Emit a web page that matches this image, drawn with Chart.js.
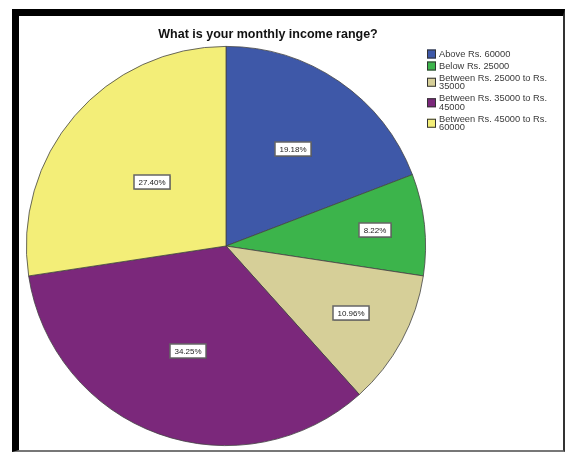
<!DOCTYPE html>
<html>
<head>
<meta charset="utf-8">
<script src="https://cdn.jsdelivr.net/npm/chart.js@4.4.0/dist/chart.umd.min.js"></script>
<style>
  html, body { margin: 0; padding: 0; background: #fff; }
  #frame {
    position: absolute; left: 12px; top: 9px; width: 553px; height: 443px;
    box-sizing: border-box;
    border-left: 7px solid #000; border-top: 7px solid #000;
    border-right: 2px solid #333; border-bottom: 2px solid #777;
  }
  #wrap { position: absolute; left: 0; top: 0; width: 566px; height: 453px; }
</style>
</head>
<body>
<div id="frame"></div>
<div id="wrap"><canvas id="chart"></canvas></div>
<script>
var categories = ['Above Rs. 60000', 'Below Rs. 25000', 'Between Rs. 25000 to Rs. 35000',
                  'Between Rs. 35000 to Rs. 45000', 'Between Rs. 45000 to Rs. 60000'];
var percents = [19.18, 8.22, 10.96, 34.25, 27.40];
var colors = ['#3e58a8', '#3cb44b', '#d6cf98', '#7b287b', '#f3ee78'];
// how far out each label box sits, as a share of the radius
var labelDepth = [0.59, 0.75, 0.71, 0.56, 0.49];

var FONT = "'Liberation Sans', Arial, sans-serif";

// percent boxes on the slices
var pieLabels = {
	id: 'pieLabels',
	afterDatasetsDraw: function(chart) {
		var ctx = chart.ctx;
		var meta = chart.getDatasetMeta(0);
		ctx.save();
		ctx.font = '8px ' + FONT;
		ctx.textAlign = 'center';
		ctx.textBaseline = 'middle';
		meta.data.forEach(function(arc, i) {
			var mid = (arc.startAngle + arc.endAngle) / 2;
			var r = arc.outerRadius * labelDepth[i];
			var x = Math.round(arc.x + Math.cos(mid) * r);
			var y = Math.round(arc.y + Math.sin(mid) * r);
			var text = percents[i].toFixed(2) + '%';
			var w = Math.round(ctx.measureText(text).width + 9);
			var h = 14;
			ctx.fillStyle = 'rgba(0,0,0,0.25)';
			ctx.fillRect(x - w / 2 + 1, y - h / 2 + 1, w, h);
			ctx.fillStyle = '#fff';
			ctx.fillRect(x - w / 2, y - h / 2, w, h);
			ctx.strokeStyle = '#666';
			ctx.lineWidth = 1.5;
			ctx.strokeRect(x - w / 2, y - h / 2, w, h);
			ctx.fillStyle = '#222';
			ctx.fillText(text, x, y + 0.5);
		});
		ctx.restore();
	}
};

// wrap a legend entry into lines of at most maxW px
function wrapText(ctx, text, maxW) {
	var words = text.split(' ');
	var lines = [];
	var line = '';
	words.forEach(function(word) {
		var test = line ? line + ' ' + word : word;
		if (line && ctx.measureText(test).width > maxW) {
			lines.push(line);
			line = word;
		} else {
			line = test;
		}
	});
	if (line) lines.push(line);
	return lines;
}

// title and legend
var decor = {
	id: 'decor',
	afterDraw: function(chart) {
		var ctx = chart.ctx;
		ctx.save();
		ctx.fillStyle = '#111';
		ctx.font = 'bold 12.5px ' + FONT;
		ctx.textAlign = 'center';
		ctx.textBaseline = 'middle';
		ctx.fillText('What is your monthly income range?', 268, 35);

		ctx.font = '9.3px ' + FONT;
		ctx.textAlign = 'left';
		var lineH = 8.5;
		var y = 54;
		categories.forEach(function(name, i) {
			var lines = wrapText(ctx, name, 122);
			var blockMid = y + (lines.length - 1) * lineH / 2;
			ctx.fillStyle = colors[i];
			ctx.fillRect(427, blockMid - 4.5, 9, 9);
			ctx.strokeStyle = '#333';
			ctx.lineWidth = 1;
			ctx.strokeRect(427.5, blockMid - 4, 8, 8);
			ctx.fillStyle = '#3a3a3a';
			lines.forEach(function(l, k) {
				ctx.fillText(l, 439, y + k * lineH);
			});
			y += lines.length * lineH + 3.5;
		});
		ctx.restore();
	}
};

var ctx = document.getElementById('chart').getContext('2d');
var mychart = new Chart(ctx, {
	type: 'pie',
	data: {
		labels: categories,
		datasets: [{
			data: percents,
			backgroundColor: colors,
			borderColor: '#444',
			borderWidth: 0.8
		}]
	},
	options: {
		responsive: true,
		maintainAspectRatio: false,
		animation: false,
		events: [],
		layout: { padding: { left: 26, right: 140, top: 46, bottom: 7 } },
		plugins: {
			legend: { display: false },
			title: { display: false },
			tooltip: { enabled: false }
		}
	},
	plugins: [pieLabels, decor]
});
</script>
</body>
</html>
